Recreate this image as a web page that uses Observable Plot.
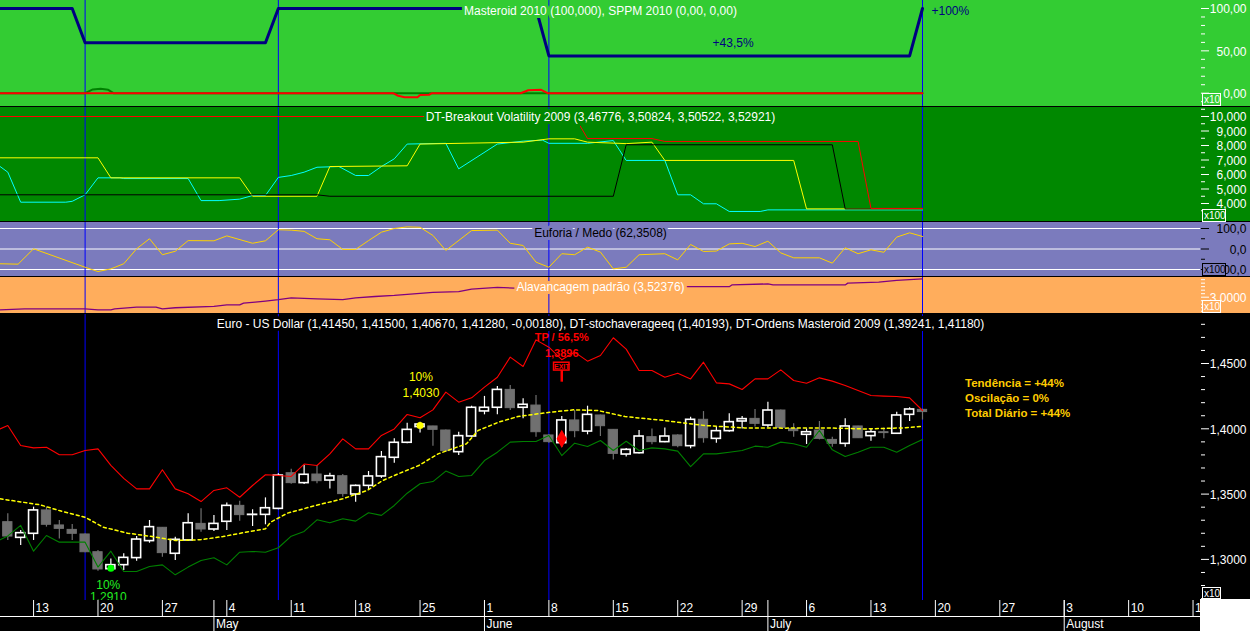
<!DOCTYPE html>
<html><head><meta charset="utf-8">
<script src="https://cdn.jsdelivr.net/npm/d3@7"></script>
<script src="https://cdn.jsdelivr.net/npm/@observablehq/plot@0.6"></script>
<style>
body{margin:0;background:#000;}
#wrap{position:relative;width:1250px;height:631px;overflow:hidden;background:#000;}
.mult{position:absolute;left:1202px;font:10px "Liberation Sans",Arial,sans-serif;line-height:11px;padding:0 1px;box-sizing:border-box;text-align:left;}
</style></head><body><div id="wrap"></div>
<script>
const FONT = '"Liberation Sans", Arial, sans-serif';

// ---------- shared x (trading-day index, 0 = 9 Apr 2009) ----------
const blueLines = [6, 21, 42, 71];
const weekTickIdx = [2,7,12,17,22,27,32,37,42,47,52,57,62,67,72,77,82,87,92];
const weekTickLabels = ["13","20","27","4","11","18","25","1","8","15","22","29","6","13","20","27","3","10","17"];
const monthIdx = [16,37,59,82];
const monthLabels = ["May","June","July","August"];

// ---------- panel 1 : Masteroid / SPPM ----------
const p1Navy = [[-0.6,100],[5,100],[6,59.5],[20,59.5],[21,100],[41,100],[42,44],[70,44],[71,100]];
const p1Green = [[-0.6,0],[6,0],[6.6,4.5],[7.2,5.2],[7.8,4],[8.2,0],[71,0]];
const p1Red = [[-0.6,0],[29.9,0],[30.3,-3],[30.8,-4.7],[31.8,-4.7],[32,-2],[32.7,-1.9],[32.9,0],[39.8,0],[40.4,3.5],[41.4,4],[41.9,0],[71,0]];
const p1Ticks = [0,50,100];
const p1TickLabels = ["0,00","50,00","100,00"];
const p1Minor = [-10,10,20,30,40,60,70,80,90];

// ---------- panel 2 : DT-Breakout Volatility ----------
const p2Cyan = [[-0.6,6.55],[0,6.16],[1,4.09],[4.5,4.09],[5,4.15],[6,4.6],[7,5.77],[8.7,5.77],[9,5.72],[14,5.72],[15,4.2],[16.4,4.2],[18,4.3],[19,4.55],[20,4.55],[21,5.8],[22,5.93],[23,6.16],[24,6.5],[25.7,6.55],[27,5.93],[28,5.93],[29,6.55],[30,7.08],[31,8.1],[34,8.15],[35,6.39],[38,8.1],[40,8.3],[41.5,8.37],[42,8.15],[45,8.15],[47,8.34],[48,6.97],[51,6.97],[52,4.6],[53,4.6],[54,3.98],[55,3.98],[56,3.45],[58.4,3.45],[59,3.56],[71,3.56]];
const p2Yellow = [[-0.6,7.15],[7,7.15],[8,5.77],[18,5.77],[19,4.5],[24,4.5],[25,6.55],[31,6.6],[32,8.1],[40,8.23],[42,8.46],[44,8.46],[45,8.23],[48,8.13],[50,8.23],[51,6.97],[61,6.97],[62,3.63],[71,3.63]];
const p2Black = [[-0.6,4.6],[24,4.6],[25,4.5],[47,4.5],[48,8.05],[64,8.05],[65,3.63],[71,3.63]];
const p2Red = [[-0.6,10.0],[44,10.0],[45,8.48],[50,8.48],[51,8.28],[66,8.28],[67,3.66],[71,3.66]];
const p2Ticks = [4,5,6,7,8,9,10];
const p2TickLabels = ["4,000","5,000","6,000","7,000","8,000","9,000","10,000"];
const p2Minor = [3.5,4.5,5.5,6.5,7.5,8.5,9.5,10.5];

// ---------- panel 3 : Euforia / Medo ----------
const p3Line = [[-0.6,-72],[0.8,-74],[2,1],[6,-89],[7,-110],[8,-97],[9,-72],[10,1],[11,50],[12,-28],[13,-11],[14,41],[16,40],[17,64],[19,28],[20,40],[21,94],[22,92],[23,86],[24,50],[25,45],[26,-2],[27,-2],[28,41],[29,82],[30,100],[31,108],[32,106],[33,66],[34,-7],[36,90],[38,92],[39,28],[40,17],[41,-64],[42,-89],[43,-23],[44,-28],[45,9],[46,-15],[47,-97],[48,-89],[49,-28],[51,-23],[52,-53],[53,22],[54,-12],[55,-10],[56,25],[57,28],[58,12],[59,38],[60,-19],[61,-43],[63,-43],[64,-69],[65,6],[66,-23],[67,-4],[68,-16],[69,58],[70,79],[71,61]];
const p3Ticks = [-100,0,100];
const p3TickLabels = ["-100,0","0,0","100,0"];
const p3Minor = [-50,50];

// ---------- panel 4 : Alavancagem padrão ----------
const p4Line = [[-0.6,2.64],[1.3,2.67],[6,2.67],[7,2.64],[8,2.64],[8.3,2.67],[10,2.72],[11.5,2.72],[12,2.67],[13,2.70],[16,2.74],[17,2.78],[18,2.78],[18.3,2.83],[19.2,2.86],[20,2.89],[21,2.93],[22,2.98],[24,2.95],[26,2.93],[27,2.98],[28.5,3.02],[30,3.05],[32,3.11],[33,3.14],[35,3.16],[36,3.23],[38,3.28],[39.3,3.26],[48,3.24],[52,3.26],[52.3,3.30],[56,3.30],[56.2,3.35],[59,3.38],[59.4,3.35],[65,3.35],[65.2,3.40],[67.6,3.43],[69,3.48],[71,3.52]];
const p4Ticks = [3];
const p4TickLabels = ["3,0000"];
const p4Minor = [2.5,2.6,2.7,2.8,2.9,3.1,3.2,3.3,3.4,3.5];

// ---------- panel 5 : Euro - US Dollar ----------
const opens  = [1.3285,1.3165,1.3196,1.3375,1.3260,1.3226,1.3191,1.3055,1.2925,1.2956,1.3010,1.3140,1.3242,1.3043,1.3145,1.3272,1.3229,1.3288,1.3410,1.3340,1.3341,1.3387,1.3660,1.3584,1.3650,1.3604,1.3637,1.3497,1.3563,1.3635,1.3778,1.3893,1.4013,1.4018,1.3987,1.3821,1.3941,1.4133,1.4161,1.4298,1.4161,1.4178,1.3949,1.3890,1.4064,1.3979,1.4102,1.3992,1.3803,1.3813,1.3936,1.3898,1.3949,1.3867,1.4069,1.3923,1.3982,1.4056,1.4076,1.4025,1.4140,1.3999,1.3954,1.3987,1.3915,1.3885,1.4018,1.3944,1.3974,1.3962,1.4107,1.4145];
const highs  = [1.3349,1.3221,1.3400,1.3400,1.3298,1.3267,1.3195,1.3068,1.3004,1.3043,1.3175,1.3298,1.3245,1.3170,1.3349,1.3387,1.3336,1.3431,1.3446,1.3380,1.3471,1.3655,1.3690,1.3719,1.3719,1.3660,1.3650,1.3570,1.3673,1.3826,1.3923,1.4043,1.4051,1.4020,1.3990,1.3974,1.4173,1.4248,1.4324,1.4332,1.4230,1.4255,1.3955,1.4094,1.4140,1.4173,1.4105,1.3995,1.3850,1.3987,1.3999,1.4007,1.3954,1.4089,1.4132,1.4013,1.4115,1.4094,1.4148,1.4204,1.4143,1.4038,1.3999,1.4056,1.3936,1.4076,1.4020,1.3999,1.4007,1.4127,1.4161,1.4150];
const lows   = [1.3145,1.3106,1.3145,1.3247,1.3157,1.3145,1.3050,1.2910,1.2915,1.2915,1.2986,1.3124,1.3017,1.2992,1.3137,1.3208,1.3214,1.3221,1.3293,1.3252,1.3265,1.3380,1.3575,1.3574,1.3579,1.3540,1.3476,1.3438,1.3528,1.3620,1.3737,1.3885,1.3967,1.3867,1.3820,1.3796,1.3936,1.4107,1.4107,1.4140,1.4076,1.3936,1.3890,1.3859,1.3931,1.3954,1.3941,1.3762,1.3785,1.3808,1.3877,1.3893,1.3854,1.3847,1.3890,1.3890,1.3974,1.3999,1.4013,1.4007,1.4000,1.3936,1.3880,1.3915,1.3859,1.3859,1.3925,1.3905,1.3923,1.3960,1.4056,1.4067];
const closes = [1.3175,1.3201,1.3375,1.3265,1.3234,1.3196,1.3055,1.2923,1.2956,1.3012,1.3152,1.3247,1.3048,1.3150,1.3277,1.3229,1.3272,1.3410,1.3339,1.3342,1.3392,1.3642,1.3584,1.3648,1.3599,1.3637,1.3500,1.3563,1.3635,1.3783,1.3893,1.3992,1.4033,1.3992,1.3829,1.3944,1.4161,1.4161,1.4298,1.4158,1.4184,1.3974,1.3898,1.4064,1.3982,1.4107,1.4020,1.3808,1.3839,1.3941,1.3898,1.3941,1.3867,1.4069,1.3928,1.3982,1.4051,1.4074,1.4038,1.4140,1.4007,1.3982,1.3974,1.3923,1.3885,1.4018,1.3928,1.3974,1.3967,1.4102,1.4148,1.4128];
const p5Red = [[-0.6,1.3999],[0,1.4025],[1,1.3872],[2,1.3854],[3,1.3859],[4,1.3801],[5,1.3801],[6,1.3834],[7,1.3846],[8,1.3720],[9,1.3620],[10,1.3540],[11,1.3540],[12,1.3686],[13,1.3540],[14,1.3502],[15,1.3443],[16,1.3528],[17,1.3548],[18,1.3476],[19,1.3566],[20,1.3648],[21,1.3643],[22,1.3635],[23,1.3730],[24,1.3719],[25,1.3808],[26,1.3923],[27,1.3846],[28,1.3846],[29,1.3949],[30,1.3999],[31,1.4110],[32,1.4084],[33,1.4145],[34,1.4281],[35,1.4204],[36,1.4237],[37,1.4319],[38,1.4395],[39,1.4549],[40,1.4477],[41,1.4681],[42,1.4625],[43,1.4529],[44,1.4587],[45,1.4518],[46,1.4561],[47,1.4697],[48,1.4610],[49,1.4446],[50,1.4446],[51,1.4395],[52,1.4426],[53,1.4382],[54,1.4510],[55,1.4352],[56,1.4344],[57,1.4301],[58,1.4382],[59,1.4382],[60,1.4451],[61,1.4370],[62,1.4349],[63,1.4390],[64,1.4365],[65,1.4332],[66,1.4293],[67,1.4255],[68,1.4250],[69,1.4247],[70,1.4237],[71,1.4140]];
const p5Green = [[-0.6,1.3150],[0,1.3180],[1,1.3260],[2,1.3063],[3,1.3183],[4,1.3132],[5,1.3132],[6,1.3132],[7,1.2941],[8,1.3063],[9,1.2907],[10,1.2907],[11,1.2946],[12,1.2958],[13,1.2882],[14,1.2941],[15,1.2992],[16,1.3012],[17,1.2958],[18,1.3055],[19,1.3061],[20,1.3055],[21,1.3089],[22,1.3178],[23,1.3214],[24,1.3303],[25,1.3280],[26,1.3311],[27,1.3293],[28,1.3357],[29,1.3337],[30,1.3413],[31,1.3507],[32,1.3579],[33,1.3596],[34,1.3676],[35,1.3635],[36,1.3643],[37,1.3757],[38,1.3821],[39,1.3898],[40,1.3903],[41,1.3903],[42,1.3949],[43,1.3795],[44,1.3890],[45,1.3865],[46,1.3910],[47,1.3834],[48,1.3905],[49,1.3834],[50,1.3854],[51,1.3846],[52,1.3829],[53,1.3711],[54,1.3808],[55,1.3808],[56,1.3821],[57,1.3834],[58,1.3867],[59,1.3859],[60,1.3898],[61,1.3885],[62,1.3859],[63,1.3987],[64,1.3839],[65,1.3788],[66,1.3821],[67,1.3859],[68,1.3859],[69,1.3821],[70,1.3872],[71,1.3918]];
const p5Stoch = [[-0.6,1.3464],[2.5,1.3418],[4,1.3374],[6,1.3323],[7.4,1.3247],[9.3,1.3201],[11.2,1.3175],[13,1.3145],[14.9,1.3150],[16.7,1.3175],[18.9,1.3216],[20,1.3234],[20.4,1.3285],[21.7,1.3354],[23.9,1.3413],[26,1.3464],[27.9,1.3528],[29.1,1.3604],[30.3,1.3655],[31.9,1.3719],[33.4,1.3808],[35.6,1.3885],[36.5,1.3987],[38.1,1.4051],[39.6,1.4094],[42.1,1.4127],[43.9,1.4145],[45.8,1.4140],[47.9,1.4094],[51,1.4063],[54.1,1.4025],[57.2,1.4007],[60.3,1.4005],[63.4,1.4007],[66.5,1.3999],[69.5,1.4007],[71,1.4019]];
const p5Ticks = [1.30,1.35,1.40,1.45];
const p5TickLabels = ["1,3000","1,3500","1,4000","1,4500"];
const p5Minor = [1.27,1.28,1.29,1.31,1.32,1.33,1.34,1.36,1.37,1.38,1.39,1.41,1.42,1.43,1.44,1.46,1.47,1.48];
// order annotations: [index, price]
const buyMarker = [8, 1.2933];
const entryMarker = [32, 1.4025];
const exitMarker = [43, 1.3923];
const exitSign = {i: 43, top: 1.4506, bottom: 1.4446, stemEnd: 1.4357};
const infoLines = [["Tendência = +44%", 1.4349], ["Oscilação = 0%", 1.4230], ["Total Diário = +44%", 1.4119]];

// ---------- helpers ----------
const wrap = document.getElementById("wrap");
const X = {domain: [0, 71], range: [7.3, 922], axis: null};

function addPanel(top, height, bg, yScale, marks, yAxisNull) {
  const y = yAxisNull ? {...yScale, axis: null} : yScale;
  const svg = Plot.plot({
    width: 1250, height, marginLeft: 0, marginRight: 50, marginTop: 0, marginBottom: 0,
    x: X, y,
    style: {background: bg, fontFamily: FONT, fontSize: "12px", overflow: "hidden"},
    marks
  });
  svg.style.position = "absolute";
  svg.style.left = "0px";
  svg.style.top = top + "px";
  wrap.appendChild(svg);
}
function rightAxis(major, labels, minor, color) {
  return [
    Plot.axisY(minor, {anchor: "right", tickSize: 4, tickFormat: () => "", color}),
    Plot.axisY(major, {anchor: "right", tickSize: 8, tickFormat: () => "", color}),
    Plot.text(major, {y: d => d, text: (d, i) => labels[i], frameAnchor: "right", dx: 46, dy: 1, textAnchor: "end", lineAnchor: "middle", fill: color})
  ];
}
const blue = () => Plot.ruleX(blueLines, {x: d => d, stroke: "#0000ff", strokeWidth: 1});
const ln = (data, stroke, strokeWidth = 1, extra = {}) =>
  Plot.line(data, {x: d => d[0], y: d => d[1], stroke, strokeWidth, ...extra});
const title = (t, fill, bg, dy) =>
  Plot.text([t], {frameAnchor: "top", lineAnchor: "middle", dy, fill, stroke: bg, strokeWidth: 6});

// ---------- panel 1 ----------
addPanel(0, 106, "#33cc33", {domain: [0, 100], range: [92.7, 8]}, [
  blue(),
  ln(p1Green, "#008000", 2),
  ln(p1Red, "#ff0000", 2),
  ln(p1Navy, "#000080", 3),
  title("Masteroid 2010 (100,000), SPPM 2010 (0,00, 0,00)", "white", "#33cc33", 11),
  Plot.text([[56.3, 59.5]], {x: d => d[0], y: d => d[1], text: ["+43,5%"], fill: "#000080"}),
  Plot.text([[71, 100]], {x: d => d[0], y: d => d[1], text: ["+100%"], dx: 9, dy: 3, textAnchor: "start", fill: "#000080"}),
  ...rightAxis(p1Ticks, p1TickLabels, p1Minor, "white")
]);

// ---------- panel 2 ----------
addPanel(107, 114, "#008800", {domain: [4, 10], range: [96, 9]}, [
  blue(),
  ln(p2Cyan, "#00ffff"),
  ln(p2Yellow, "#ffff00"),
  ln(p2Black, "#000000"),
  ln(p2Red, "#ff0000"),
  title("DT-Breakout Volatility 2009 (3,46776, 3,50824, 3,50522, 3,52921)", "white", "#008800", 10),
  ...rightAxis(p2Ticks, p2TickLabels, p2Minor, "white")
]);

// ---------- panel 3 ----------
addPanel(222, 54, "#7b7bbd", {domain: [-100, 100], range: [47, 6]}, [
  Plot.ruleY(p3Ticks, {stroke: "white", strokeWidth: 1}),
  blue(),
  ln(p3Line, "#ffd200"),
  title("Euforia / Medo (62,3508)", "black", "#7b7bbd", 11),
  ...rightAxis(p3Ticks, p3TickLabels, p3Minor, "black")
]);

// ---------- panel 4 ----------
addPanel(277, 36, "#ffad5c", {domain: [3, 3.5], range: [19.7, 2.15]}, [
  blue(),
  ln(p4Line, "#800080", 1.3),
  title("Alavancagem padrão (3,52376)", "white", "#ffad5c", 10),
  ...rightAxis(p4Ticks, p4TickLabels, p4Minor, "white")
]);

// ---------- panel 5 ----------
const candles = opens.map((o, i) => ({i, o, h: highs[i], l: lows[i], c: closes[i]}));
const up = candles.filter(d => d.c >= d.o);
const down = candles.filter(d => d.c < d.o);
const GRAY = "#707070";
addPanel(314, 286, "#000000", {domain: [1.3, 1.4], range: [244.9, 114.3]}, [
  blue(),
  Plot.ruleX(down, {x: "i", y1: "l", y2: "h", stroke: GRAY, strokeWidth: 1.2}),
  Plot.ruleX(up, {x: "i", y1: "l", y2: "h", stroke: "white", strokeWidth: 1.2}),
  Plot.rect(down, {x1: d => d.i - 0.36, x2: d => d.i + 0.36, y1: "o", y2: "c", fill: GRAY, stroke: GRAY, strokeWidth: 1}),
  Plot.rect(up, {x1: d => d.i - 0.35, x2: d => d.i + 0.35, y1: "o", y2: "c", fill: "black", stroke: "white", strokeWidth: 1.6}),
  ln(p5Green, "#008000", 1.1),
  ln(p5Red, "#ff0000", 1.1),
  ln(p5Stoch, "#ffff00", 1.5, {strokeDasharray: "3,3"}),
  title("Euro - US Dollar (1,41450, 1,41500, 1,40670, 1,41280, -0,00180), DT-stochaverageeq (1,40193), DT-Ordens Masteroid 2009 (1,39241, 1,41180)", "white", "black", 10),
  Plot.dot([buyMarker], {x: d => d[0], y: d => d[1], r: 3.5, fill: "#00ff00"}),
  Plot.dot([entryMarker], {x: d => d[0], y: d => d[1], r: 3.5, fill: "#ffff00"}),
  Plot.dot([exitMarker], {x: d => d[0], y: d => d[1], r: 5.5, symbol: "diamond", fill: "#ff0000"}),
  Plot.ruleX([exitSign], {x: "i", y1: "bottom", y2: "stemEnd", stroke: "#ff0000", strokeWidth: 2.5}),
  Plot.rect([exitSign], {x1: d => d.i - 0.6, x2: d => d.i + 0.6, y1: "bottom", y2: "top", fill: "black", stroke: "#ff0000", strokeWidth: 1.5}),
  Plot.text([exitSign], {x: "i", y: d => (d.top + d.bottom) / 2, text: () => "EXIT", fill: "#ff0000", fontSize: 7, fontWeight: "bold"}),
  Plot.text([[43, 1.4701, "TP / 56,5%"], [43, 1.4579, "1,3896"]], {x: d => d[0], y: d => d[1], text: d => d[2], fill: "#ff0000", fontWeight: "bold", fontSize: 11}),
  Plot.text([[32.07, 1.4395, "10%"], [32.07, 1.4276, "1,4030"]], {x: d => d[0], y: d => d[1], text: d => d[2], fill: "#ffff00"}),
  Plot.text([[7.8, 1.2800, "10%"], [7.8, 1.2708, "1,2910"]], {x: d => d[0], y: d => d[1], text: d => d[2], fill: "#22ee22"}),
  Plot.text(infoLines, {x: 74.3, y: d => d[1], text: d => d[0], textAnchor: "start", fill: "#ffcc00", fontWeight: "bold", fontSize: 11.5}),
  ...rightAxis(p5Ticks, p5TickLabels, p5Minor, "white")
]);

// ---------- time axis ----------
addPanel(600, 31, "#000000", {domain: [0, 31], range: [0, 31]}, [
  Plot.ruleY([16], {stroke: "white"}),
  Plot.ruleX(weekTickIdx, {x: d => d, y1: 0, y2: 16, stroke: "white"}),
  Plot.text(weekTickIdx, {x: d => d, y: 7.5, text: (d, i) => weekTickLabels[i], textAnchor: "start", dx: 2, fill: "white"}),
  Plot.ruleX(monthIdx, {x: d => d, y1: 0, y2: 31, stroke: "white"}),
  Plot.text(monthIdx, {x: d => d, y: 24, text: (d, i) => monthLabels[i], textAnchor: "start", dx: 2, fill: "white"})
], true);

// ---------- multiplier boxes & corner ----------
function box(txt, top, w, h, color, bg) {
  const d = document.createElement("div");
  d.className = "mult";
  d.textContent = txt;
  Object.assign(d.style, {top: top + "px", width: w + "px", height: h + "px", border: "1px solid " + color, color, background: bg});
  wrap.appendChild(d);
}
box("x10", 93, 19, 13, "white", "#33cc33");
box("x100", 209, 24, 13, "white", "#008800");
box("x100", 263, 24, 13, "black", "#7b7bbd");
box("x10", 300, 19, 13, "white", "#ffad5c");
box("x10", 587, 19, 12, "white", "#000000");
const corner = document.createElement("div");
Object.assign(corner.style, {position: "absolute", left: "1200px", top: "599px", width: "50px", height: "32px", background: "white"});
wrap.appendChild(corner);
</script></body></html>
